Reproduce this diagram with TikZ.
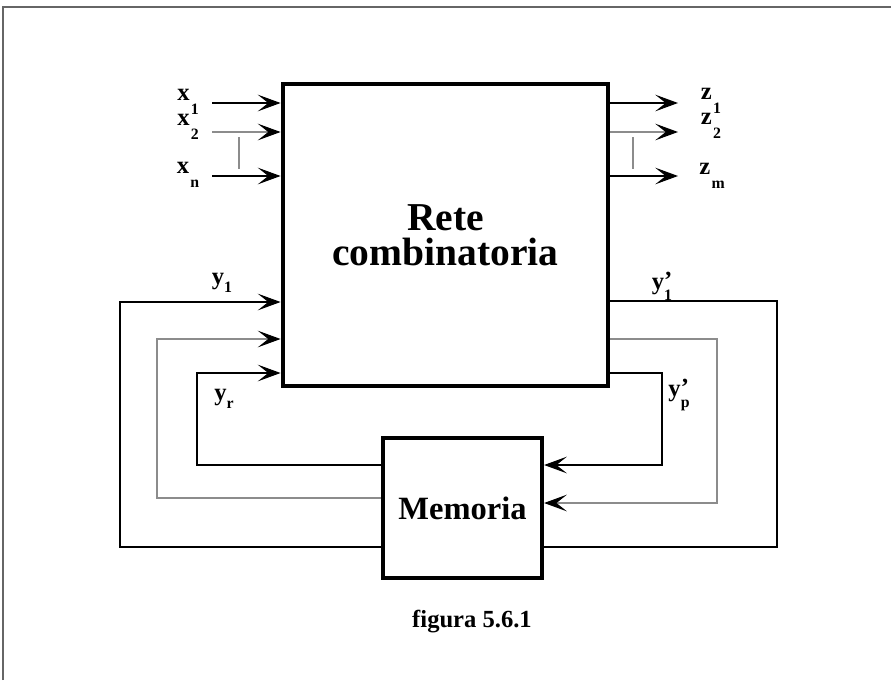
\documentclass[tikz,border=0pt]{standalone}
\usepackage{fontspec}
\setmainfont{Liberation Serif}
\usetikzlibrary{arrows.meta}
% etiquetas de senales con subindice
\newcommand{\senal}[2]{#1\hspace{0.05em}\raisebox{-0.55em}{\fontsize{9}{9}\selectfont #2}}
\newcommand{\senaly}[2]{#1\raisebox{-0.3em}{\fontsize{9}{9}\selectfont #2}}
\newcommand{\senalp}[2]{#1\makebox[0pt][l]{\raisebox{0.05em}{'}}\raisebox{-0.45em}{\fontsize{9}{9}\selectfont #2}}
\begin{document}
\begin{tikzpicture}[x=0.02cm, y=-0.02cm,
    wire/.style={line width=0.6pt, black},
    gwire/.style={line width=0.6pt, black!45},
    flecha/.style={-{Stealth[length=13pt, width=9.5pt, inset=6pt, color=black]}},
    lbl/.style={font=\fontsize{14}{15}\selectfont\bfseries, inner sep=0pt}]
    \useasboundingbox (0,0) rectangle (891,680);
    % Marco
    \draw[line width=1.2pt, black!60] (3,680) -- (3,7) -- (891,7);
    % Bloques
    \node[draw, line width=2.8pt, minimum width=6.5cm, minimum height=6.04cm,
          align=center, font=\fontsize{22.5}{20}\selectfont\bfseries] (rete) at (445.5,235) {Rete\\combinatoria};
    \node[draw, line width=2.4pt, minimum width=3.18cm, minimum height=2.8cm,
          font=\fontsize{18.5}{20}\selectfont\bfseries] (mem) at (462.5,508) {Memoria};
    % Entradas
    \coordinate (x1) at (212,103);
    \coordinate (x2) at (212,132);
    \coordinate (xn) at (212,176);
    \draw[wire, flecha] (x1) -- (x1 -| rete.west);
    \draw[gwire, flecha] (x2) -- (x2 -| rete.west);
    \draw[wire, flecha] (xn) -- (xn -| rete.west);
    \draw[gwire] (239,137) -- (239,169);
    \node[lbl] (lx1) at (188,102) {\senal{x}{1}};
    \node[lbl] (lx2) at (188,127) {\senal{x}{2}};
    \node[lbl] (lxn) at (188,175) {\senal{x}{n}};
    % Salidas
    \coordinate (z1) at (678,103);
    \coordinate (z2) at (678,132);
    \coordinate (zm) at (678,176);
    \draw[wire, flecha] (rete.east |- z1) -- (z1);
    \draw[gwire, flecha] (rete.east |- z2) -- (z2);
    \draw[wire, flecha] (rete.east |- zm) -- (zm);
    \draw[gwire] (633,137) -- (633,169);
    \node[lbl] (lz1) at (711,101) {\senal{z}{1}};
    \node[lbl] (lz2) at (711,126) {\senal{z}{2}};
    \node[lbl] (lzm) at (712,176) {\senal{z}{m}};
    % Retroalimentacion izquierda
    \coordinate (la1) at (120,547);
    \coordinate (la2) at (120,302);
    \coordinate (lb1) at (157,498);
    \coordinate (lb2) at (157,339);
    \coordinate (lc1) at (197,465);
    \coordinate (lc2) at (197,373);
    \draw[wire, flecha] (mem.west |- la1) -- (la1) -- (la2) -- (la2 -| rete.west);
    \draw[gwire, flecha] (mem.west |- lb1) -- (lb1) -- (lb2) -- (lb2 -| rete.west);
    \draw[wire, flecha] (mem.west |- lc1) -- (lc1) -- (lc2) -- (lc2 -| rete.west);
    \node[lbl] (ly1) at (222,283) {\senaly{y}{1}};
    \node[lbl] (lyr) at (224,399) {\senaly{y}{r}};
    % Retroalimentacion derecha
    \coordinate (ra1) at (777,301);
    \coordinate (ra2) at (777,547);
    \coordinate (rb1) at (717,339);
    \coordinate (rb2) at (717,503);
    \coordinate (rc1) at (662,373);
    \coordinate (rc2) at (662,465);
    \draw[wire] (rete.east |- ra1) -- (ra1) -- (ra2) -- (ra2 -| mem.east);
    \draw[gwire, flecha] (rete.east |- rb1) -- (rb1) -- (rb2) -- (rb2 -| mem.east);
    \draw[wire, flecha] (rete.east |- rc1) -- (rc1) -- (rc2) -- (rc2 -| mem.east);
    \node[lbl] (lyp1) at (662,286) {\senalp{y}{1}};
    \node[lbl] (lypp) at (679,395) {\senalp{y}{p}};
    % Pie de figura
    \node[font=\fontsize{14}{15}\selectfont\bfseries] (pie) at (472,622) {figura 5.6.1};
\end{tikzpicture}
\end{document}
